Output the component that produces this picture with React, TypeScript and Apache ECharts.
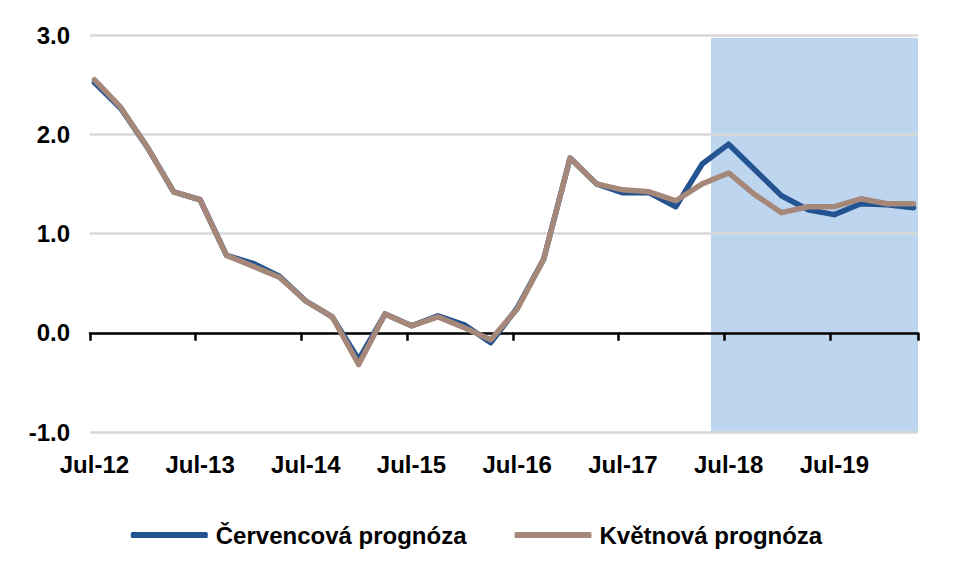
import React, { useEffect, useRef } from "react";
import * as echarts from "echarts";

// Quarterly observations, first quarter = Jul-12
const startYear = 12;
const monthNames = ["Jul", "Aug", "Sep", "Oct", "Nov", "Dec", "Jan", "Feb", "Mar", "Apr", "May", "Jun"];
const monthCount = 94; // Jul-12 .. Apr-20

const julyForecast = [
  2.52, 2.26, 1.87, 1.42, 1.34, 0.78, 0.70, 0.57, 0.32, 0.16, -0.27, 0.19, 0.07, 0.17, 0.08, -0.10,
  0.25, 0.74, 1.76, 1.50, 1.41, 1.41, 1.27, 1.70, 1.90, 1.64, 1.38, 1.24, 1.19, 1.30, 1.29, 1.26,
];
const mayForecast = [
  2.55, 2.27, 1.87, 1.42, 1.34, 0.78, 0.67, 0.56, 0.32, 0.16, -0.32, 0.19, 0.07, 0.16, 0.05, -0.07,
  0.24, 0.74, 1.76, 1.50, 1.44, 1.42, 1.33, 1.50, 1.61, 1.39, 1.21, 1.27, 1.27, 1.35, 1.30, 1.30,
];
const seriesNames = ["Červencová prognóza", "Květnová prognóza"];
const forecastStartIndex = 70; // shaded forecast period start (month index)
const forecastTop = 2.97;

const yMin = -1;
const yMax = 3;
const yInterval = 1;

function buildCategories(): string[] {
  const out: string[] = [];
  for (let m = 0; m < monthCount; m++) {
    const name = monthNames[m % 12];
    const year = startYear + Math.floor((m + 6) / 12);
    out.push(`${name}-${String(year).padStart(2, "0")}`);
  }
  return out;
}

function toMonthly(values: number[]): (number | null)[] {
  const out: (number | null)[] = new Array(monthCount).fill(null);
  values.forEach((v, i) => {
    out[i * 3] = v;
  });
  return out;
}

const FONT = "'Liberation Sans', Arial, sans-serif";

export default function App() {
  const ref = useRef<HTMLDivElement>(null);
  useEffect(() => {
    if (!ref.current) return;
    const chart = echarts.init(ref.current, undefined, { renderer: "svg" });
    const categories = buildCategories();
    chart.setOption({
      animation: false,
      backgroundColor: "#ffffff",
      textStyle: { fontFamily: FONT },
      grid: { left: 90, right: 35, top: 35, bottom: 155, containLabel: false },
      legend: {
        data: seriesNames,
        left: "center",
        top: 518,
        icon: "roundRect",
        itemWidth: 77,
        itemHeight: 6,
        itemGap: 48,
        textStyle: {
          fontFamily: FONT,
          fontSize: 24,
          fontWeight: "bold",
          color: "#000000",
          padding: [0, 0, 0, 3],
        },
      },
      xAxis: {
        type: "category",
        data: categories,
        boundaryGap: true,
        z: 1.5,
        axisLine: { onZero: true, lineStyle: { color: "#000000", width: 2.5 } },
        axisTick: {
          show: true,
          length: 8,
          alignWithLabel: false,
          interval: (index: number) => index % 12 === 0,
          lineStyle: { color: "#000000", width: 2.5 },
        },
        axisLabel: {
          interval: (index: number) => index % 12 === 0,
          margin: 20,
          fontFamily: FONT,
          fontSize: 24,
          fontWeight: "bold",
          color: "#000000",
        },
        splitLine: { show: false },
      },
      yAxis: {
        type: "value",
        min: yMin,
        max: yMax,
        interval: yInterval,
        z: 1.5,
        axisLine: { show: false },
        axisTick: { show: false },
        axisLabel: {
          margin: 20,
          fontFamily: FONT,
          fontSize: 24,
          fontWeight: "bold",
          color: "#000000",
          formatter: (v: number) => v.toFixed(1),
        },
        splitLine: { show: true, lineStyle: { color: "#d9d9d9", width: 2.5 } },
      },
      series: [
        {
          name: seriesNames[0],
          type: "line",
          data: toMonthly(julyForecast),
          connectNulls: true,
          symbol: "none",
          z: 3,
          itemStyle: { color: "#235391" },
          lineStyle: { color: "#235391", width: 5.5, cap: "round", join: "round" },
          markArea: {
            silent: true,
            itemStyle: { color: "#bdd5ee" },
            data: [[{ xAxis: forecastStartIndex, yAxis: yMin }, { yAxis: forecastTop }]],
          },
        },
        {
          name: seriesNames[1],
          type: "line",
          data: toMonthly(mayForecast),
          connectNulls: true,
          symbol: "none",
          z: 4,
          itemStyle: { color: "#a6887a" },
          lineStyle: { color: "#a6887a", width: 5.5, cap: "round", join: "round" },
        },
      ],
    });
    return () => chart.dispose();
  }, []);
  return (
    <div
      ref={ref}
      style={{ position: "fixed", left: 0, top: 0, width: 953, height: 587, background: "#fff" }}
    />
  );
}
